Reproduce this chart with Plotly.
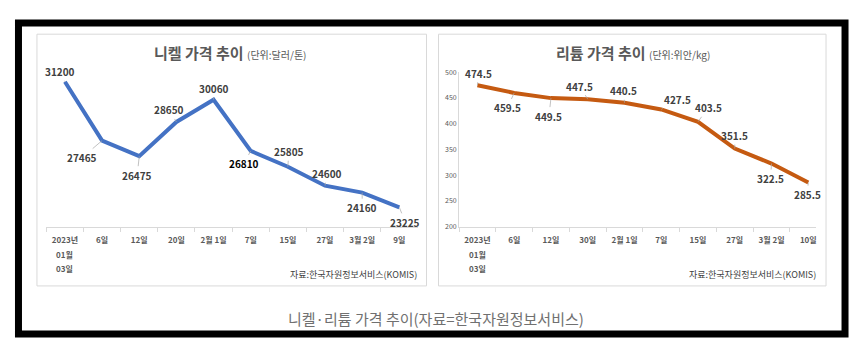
import plotly.graph_objects as go

# ---------------- data ----------------
nickel_dates = ["2023년", "6일", "12일", "20일", "2월 1일", "7일", "15일", "27일", "3월 2일", "9일"]
nickel_prices = [31200, 27465, 26475, 28650, 30060, 26810, 25805, 24600, 24160, 23225]

lithium_dates = ["2023년", "6일", "12일", "30일", "2월 1일", "7일", "15일", "27일", "3월 2일", "10일"]
lithium_prices = [474.5, 459.5, 449.5, 447.5, 440.5, 427.5, 403.5, 351.5, 322.5, 285.5]

first_tick_extra = ["01월", "03일"]

nickel_title = "니켈 가격 추이"
nickel_unit = "(단위:달러/톤)"
lithium_title = "리튬 가격 추이"
lithium_unit = "(단위:위안/kg)"
source_text = "자료:한국자원정보서비스(KOMIS)"
caption_text = "니켈·리튬 가격 추이(자료=한국자원정보서비스)"

# label offsets (pixels) for data labels
nickel_offsets = [(-5, -10), (-20, 17), (-2, 19), (-7, -12), (0, -11), (-7, 13), (1, -15), (2, -12), (0, 15), (6, 15)]
lithium_offsets = [(1, -12), (-7, 15), (-2, 18), (-8, -13), (-1, -12), (16, -10), (10, -14), (0, -13), (-1, 15), (-1, 12)]

W, H = 864, 357
FONT = "Noto Sans CJK KR"


def px(x):
    return x / W


def py(y):
    return 1 - y / H


fig = go.Figure()

fig.add_trace(go.Scatter(x=nickel_dates, y=nickel_prices, mode="lines",
                         line=dict(color="#4472C4", width=4), xaxis="x", yaxis="y",
                         showlegend=False, hoverinfo="skip"))
fig.add_trace(go.Scatter(x=lithium_dates, y=lithium_prices, mode="lines",
                         line=dict(color="#C55A11", width=4), xaxis="x2", yaxis="y2",
                         showlegend=False, hoverinfo="skip"))

annotations = []
for i, (d, v) in enumerate(zip(nickel_dates, nickel_prices)):
    ax, ay = nickel_offsets[i]
    color = "#000000" if v == 26810 else "#404040"
    annotations.append(dict(x=d, y=v, xref="x", yref="y", ax=ax, ay=ay,
                            text=f"<b>{v}</b>", showarrow=True, arrowhead=0,
                            arrowwidth=0.7, arrowcolor="#a6a6a6",
                            xanchor="center", yanchor="middle",
                            font=dict(family=FONT, size=10, color=color)))
for i, (d, v) in enumerate(zip(lithium_dates, lithium_prices)):
    ax, ay = lithium_offsets[i]
    annotations.append(dict(x=d, y=v, xref="x2", yref="y2", ax=ax, ay=ay,
                            text=f"<b>{v}</b>", showarrow=True, arrowhead=0,
                            arrowwidth=0.7, arrowcolor="#a6a6a6",
                            xanchor="center", yanchor="middle",
                            font=dict(family=FONT, size=10, color="#404040")))

# extra lines of the first tick label
for xr in ["x", "x2"]:
    for k, t in enumerate(first_tick_extra):
        annotations.append(dict(x=0, y=py(256 + 14.5 * k), xref=xr, yref="paper",
                                text=t, showarrow=False, xanchor="center", yanchor="middle",
                                font=dict(family=FONT, size=8, color="#595959", weight="bold")))

# titles
for cx, title, unit in [(230, nickel_title, nickel_unit), (634, lithium_title, lithium_unit)]:
    annotations.append(dict(x=px(cx), y=py(48), xref="paper", yref="paper", showarrow=False,
                            xanchor="center", yanchor="middle",
                            text=f"<b>{title}</b> <span style='font-size:10px'>{unit}</span>",
                            font=dict(family=FONT, size=15, color="#595959")))

# sources
for rx in [419, 819]:
    annotations.append(dict(x=px(rx), y=py(276), xref="paper", yref="paper", showarrow=False,
                            xanchor="right", yanchor="middle", text=source_text,
                            font=dict(family=FONT, size=9, color="#404040")))

# caption
annotations.append(dict(x=px(437), y=py(321), xref="paper", yref="paper", showarrow=False,
                        xanchor="center", yanchor="middle",
                        text=caption_text, font=dict(family=FONT, size=15, color="#707070")))

# shapes: frame and panels
shapes = [
    dict(type="rect", xref="paper", yref="paper", x0=px(18.5), x1=px(846), y0=py(337.5), y1=py(17.5),
         line=dict(color="#000000", width=7), fillcolor="white", layer="below"),
    dict(type="rect", xref="paper", yref="paper", x0=px(37), x1=px(427), y0=py(288), y1=py(29),
         line=dict(color="#d9d9d9", width=1), fillcolor="white", layer="below"),
    dict(type="rect", xref="paper", yref="paper", x0=px(439), x1=px(827), y0=py(288), y1=py(29),
         line=dict(color="#d9d9d9", width=1), fillcolor="white", layer="below"),
]

xaxis_common = dict(type="category", tickson="boundaries", ticks="outside", ticklen=4,
                    tickcolor="#d9d9d9", showline=True, linecolor="#d9d9d9", linewidth=1,
                    showgrid=False, zeroline=False, fixedrange=True, ticklabelstandoff=6,
                    tickfont=dict(family=FONT, size=8, color="#595959", weight="bold"))

fig.update_layout(
    width=W, height=H, margin=dict(l=0, r=0, t=0, b=0),
    paper_bgcolor="white", plot_bgcolor="rgba(0,0,0,0)",
    font=dict(family=FONT),
    xaxis=dict(domain=[px(46.4), px(418.4)], range=[-0.5, 9.5], anchor="y", **xaxis_common),
    yaxis=dict(domain=[py(227), py(65)], range=[22000, 32000], visible=False, fixedrange=True),
    xaxis2=dict(domain=[px(459.6), px(816.6)], range=[-0.5, 9.2], anchor="y2", **xaxis_common),
    yaxis2=dict(domain=[py(227), py(68)], range=[200, 500], dtick=50, anchor="x2",
                showline=True, linecolor="#d9d9d9", showgrid=False, zeroline=False,
                ticks="", fixedrange=True,
                tickfont=dict(family=FONT, size=7, color="#595959")),
    annotations=annotations,
    shapes=shapes,
)

fig.write_html("out.html", config={"displayModeBar": False},
               post_script="document.body.style.margin='0';document.body.style.overflow='hidden';")
